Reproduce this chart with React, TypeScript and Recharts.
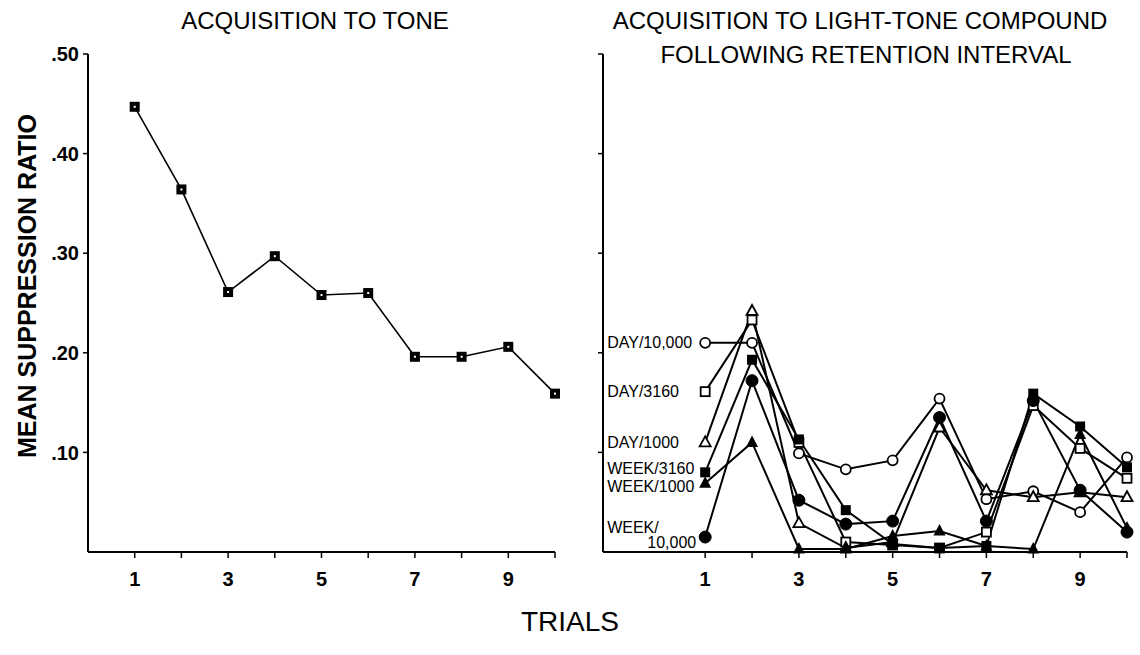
import React from 'react';
import { LineChart, Line, XAxis, YAxis } from 'recharts';

// trials shared by both panels
const trials = [1, 2, 3, 4, 5, 6, 7, 8, 9, 10];

// left panel: acquisition to tone
const toneRatio = [0.447, 0.364, 0.261, 0.297, 0.258, 0.26, 0.196, 0.196, 0.206, 0.159];

// right panel: acquisition to light-tone compound, one list per group
const day10000 = [0.21, 0.21, 0.099, 0.083, 0.092, 0.154, 0.053, 0.061, 0.04, 0.095];
const day3160 = [0.161, 0.233, 0.11, 0.01, 0.007, 0.004, 0.02, 0.147, 0.104, 0.074];
const day1000 = [0.11, 0.242, 0.029, 0.004, 0.01, 0.125, 0.062, 0.055, 0.06, 0.055];
const week3160 = [0.08, 0.193, 0.113, 0.042, 0.008, 0.004, 0.006, 0.159, 0.126, 0.085];
const week1000 = [0.069, 0.11, 0.003, 0.003, 0.016, 0.021, 0.006, 0.003, 0.118, 0.024];
const week10000 = [0.015, 0.172, 0.052, 0.028, 0.031, 0.135, 0.031, 0.152, 0.062, 0.02];

const yTicks = [0.1, 0.2, 0.3, 0.4, 0.5];

const FONT = '"Liberation Sans", Arial, Helvetica, sans-serif';

const toneData = trials.map((t, i) => ({ trial: t, ratio: toneRatio[i] }));
const compoundData = trials.map((t, i) => ({
  trial: t,
  day10000: day10000[i],
  day3160: day3160[i],
  day1000: day1000[i],
  week3160: week3160[i],
  week1000: week1000[i],
  week10000: week10000[i],
}));

type Marker = 'openCircle' | 'openSquare' | 'openTriangle' | 'filledSquare' | 'filledTriangle' | 'filledCircle';

// label lines sit left of the first point; dy relative to that point
const groups: { key: string; marker: Marker; lines: { text: string; dy: number; anchor: 'start' | 'end' }[] }[] = [
  { key: 'day10000', marker: 'openCircle', lines: [{ text: 'DAY/10,000', dy: 0, anchor: 'start' }] },
  { key: 'day3160', marker: 'openSquare', lines: [{ text: 'DAY/3160', dy: 0, anchor: 'start' }] },
  { key: 'day1000', marker: 'openTriangle', lines: [{ text: 'DAY/1000', dy: 0, anchor: 'start' }] },
  { key: 'week3160', marker: 'filledSquare', lines: [{ text: 'WEEK/3160', dy: -4, anchor: 'start' }] },
  { key: 'week1000', marker: 'filledTriangle', lines: [{ text: 'WEEK/1000', dy: 3, anchor: 'start' }] },
  {
    key: 'week10000',
    marker: 'filledCircle',
    lines: [
      { text: 'WEEK/', dy: -10, anchor: 'start' },
      { text: '10,000', dy: 5, anchor: 'end' },
    ],
  },
];

const drawMarker = (kind: Marker, cx: number, cy: number) => {
  const sw = 1.8;
  switch (kind) {
    case 'openCircle':
      return <circle cx={cx} cy={cy} r={5} fill="#fff" stroke="#000" strokeWidth={sw} />;
    case 'filledCircle':
      return <circle cx={cx} cy={cy} r={6} fill="#000" stroke="#000" strokeWidth={1} />;
    case 'openSquare':
      return <rect x={cx - 4.5} y={cy - 4.5} width={9} height={9} fill="#fff" stroke="#000" strokeWidth={sw} />;
    case 'filledSquare':
      return <rect x={cx - 5} y={cy - 5} width={10} height={10} fill="#000" />;
    case 'openTriangle':
      return (
        <path d={`M${cx},${cy - 6} L${cx + 5.5},${cy + 4} L${cx - 5.5},${cy + 4} Z`} fill="#fff" stroke="#000" strokeWidth={sw} />
      );
    case 'filledTriangle':
      return <path d={`M${cx},${cy - 7} L${cx + 6},${cy + 4.5} L${cx - 6},${cy + 4.5} Z`} fill="#000" />;
  }
};

const App: React.FC = () => {
  const axisLine = { stroke: '#000', strokeWidth: 2 };
  const tickLine = { stroke: '#000', strokeWidth: 1.5 };
  const tickStyle = { fontSize: 20, fill: '#000', fontFamily: FONT, fontWeight: 'bold' };

  return (
    <div style={{ position: 'absolute', left: 0, top: 0, width: 1140, height: 655, background: '#fff' }}>
      {/* left panel */}
      <div style={{ position: 'absolute', left: 0, top: 0 }}>
        <LineChart width={580} height={600} data={toneData} margin={{ top: 54, right: 25, bottom: 0, left: 0 }}>
          <XAxis
            dataKey="trial"
            type="number"
            domain={[0, 10]}
            ticks={trials}
            interval={0}
            tickFormatter={(v: number) => (v % 2 === 1 ? String(v) : '')}
            axisLine={axisLine}
            tickLine={tickLine}
            tickSize={6}
            tickMargin={14}
            height={48}
            tick={tickStyle}
          />
          <YAxis
            type="number"
            domain={[0, 0.5]}
            ticks={yTicks}
            interval={0}
            tickFormatter={(v: number) => '.' + Math.round(v * 100)}
            axisLine={axisLine}
            tickLine={tickLine}
            tickSize={5}
            tickMargin={4}
            width={88}
            tick={tickStyle}
          />
          <Line
            dataKey="ratio"
            stroke="#000"
            strokeWidth={1.6}
            isAnimationActive={false}
            dot={(p: any) => (
              <g key={`tone-${p.index}`}>
                <rect x={p.cx - 5} y={p.cy - 5} width={10} height={10} fill="#000" />
                <rect x={p.cx - 1} y={p.cy - 1} width={2} height={2} fill="#fff" />
              </g>
            )}
          />
        </LineChart>
      </div>

      {/* right panel */}
      <div style={{ position: 'absolute', left: 560, top: 0 }}>
        <LineChart width={580} height={600} data={compoundData} margin={{ top: 54, right: 13, bottom: 0, left: 0 }}>
          <XAxis
            dataKey="trial"
            type="number"
            domain={[-1.18, 10]}
            ticks={trials}
            interval={0}
            tickFormatter={(v: number) => (v % 2 === 1 ? String(v) : '')}
            axisLine={axisLine}
            tickLine={tickLine}
            tickSize={6}
            tickMargin={14}
            height={48}
            tick={tickStyle}
          />
          <YAxis
            type="number"
            domain={[0, 0.5]}
            ticks={yTicks}
            interval={0}
            tickFormatter={() => ''}
            axisLine={axisLine}
            tickLine={tickLine}
            tickSize={5}
            width={43}
          />
          {groups.map((g) => (
            <Line
              key={g.key}
              dataKey={g.key}
              stroke="#000"
              strokeWidth={2}
              isAnimationActive={false}
              dot={(p: any) => <g key={`${g.key}-${p.index}`}>{drawMarker(g.marker, p.cx, p.cy)}</g>}
              label={(p: any) =>
                p.index === 0 ? (
                  <g key={`${g.key}-label`}>
                    {g.lines.map((l) => (
                      <text
                        key={l.text}
                        x={l.anchor === 'start' ? p.x - 98 : p.x - 9}
                        y={p.y + l.dy}
                        textAnchor={l.anchor}
                        dominantBaseline="central"
                        fontSize={16}
                        fontFamily={FONT}
                        fill="#000"
                      >
                        {l.text}
                      </text>
                    ))}
                  </g>
                ) : (
                  <g key={`${g.key}-label-${p.index}`} />
                )
              }
            />
          ))}
        </LineChart>
      </div>

      {/* titles and axis captions */}
      <svg width={1140} height={655} style={{ position: 'absolute', left: 0, top: 0, pointerEvents: 'none' }}>
        <g fontFamily={FONT} fill="#000">
          <text x={315} y={29} textAnchor="middle" fontSize={24}>
            ACQUISITION TO TONE
          </text>
          <text x={860} y={29} textAnchor="middle" fontSize={24}>
            ACQUISITION TO LIGHT-TONE COMPOUND
          </text>
          <text x={866} y={63} textAnchor="middle" fontSize={24}>
            FOLLOWING RETENTION INTERVAL
          </text>
          <text x={570} y={631} textAnchor="middle" fontSize={28}>
            TRIALS
          </text>
          <text
            x={27}
            y={286}
            textAnchor="middle"
            dominantBaseline="central"
            fontSize={25}
            fontWeight="bold"
            transform="rotate(-90 27 286)"
          >
            MEAN SUPPRESSION RATIO
          </text>
        </g>
      </svg>
    </div>
  );
};

export default App;
